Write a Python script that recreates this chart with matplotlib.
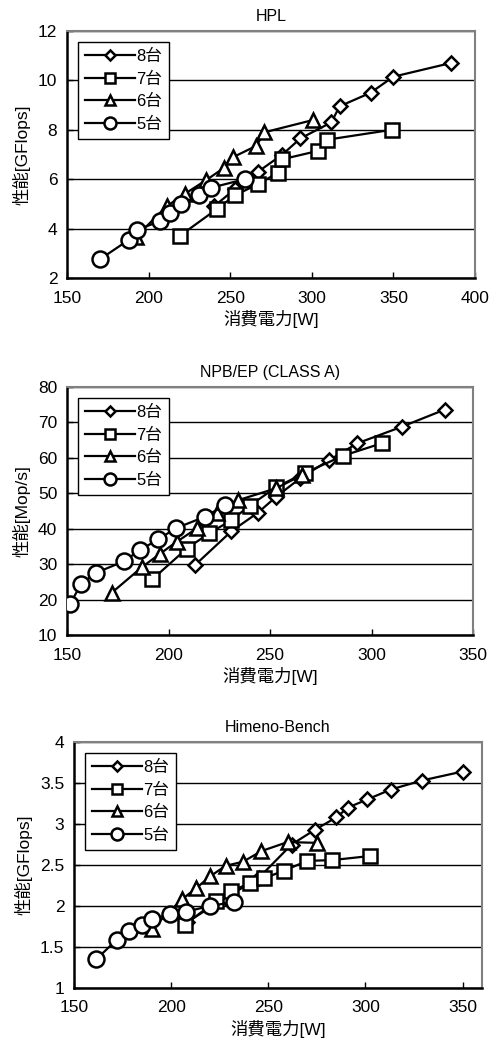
import matplotlib
matplotlib.use("Agg")
from matplotlib import pyplot as plt

plt.rcParams['font.family'] = ['Liberation Sans', 'Noto Sans CJK JP', 'DejaVu Sans']

labels = ['8台', '7台', '6台', '5台']
markers = ['D', 's', '^', 'o']
msizes = [7, 10.5, 10, 11.5]

# HPL
hpl_x = [
    [240, 253, 267, 282, 293, 312, 317, 336, 350, 385],
    [219, 242, 253, 267, 279, 281.5, 304, 309.5, 349],
    [192, 211, 222, 235, 246, 252, 266, 271, 301],
    [170, 188, 193, 207, 213, 220, 231, 238, 259],
]
hpl_y = [
    [4.9, 5.6, 6.3, 7.0, 7.65, 8.3, 8.95, 9.5, 10.15, 10.7],
    [3.7, 4.8, 5.35, 5.8, 6.25, 6.8, 7.15, 7.6, 8.0],
    [3.65, 4.9, 5.4, 5.95, 6.45, 6.9, 7.35, 7.9, 8.4],
    [2.75, 3.55, 3.95, 4.3, 4.65, 5.0, 5.35, 5.65, 6.0],
]

# NPB/EP
npb_x = [
    [213, 231, 244, 253, 265, 279, 293, 315, 336],
    [192, 209, 220, 231, 240, 253, 267, 286, 305],
    [172, 187, 196, 204, 214, 224, 234, 253, 266],
    [151.5, 157, 164.5, 178, 186, 195, 203.5, 218, 228],
]
npb_y = [
    [29.7, 39.3, 44.5, 49.0, 54.3, 59.3, 64.1, 68.8, 73.6],
    [25.7, 34.4, 38.7, 42.4, 46.5, 51.7, 55.7, 60.6, 64.1],
    [21.9, 29.2, 33.0, 36.3, 40.1, 44.3, 48.0, 51.4, 55.2],
    [18.7, 24.5, 27.6, 30.8, 34.0, 37.0, 40.1, 43.4, 46.7],
]

# Himeno-Bench
him_x = [
    [208, 228, 245, 262, 274, 285, 291, 301, 313, 329, 350],
    [207, 223, 231, 240.5, 248, 258, 270, 283, 302.5],
    [190, 205.5, 213, 220, 228, 237, 246.5, 260, 275],
    [161.5, 172, 178.5, 185, 190, 199.5, 207.5, 220, 232.5],
]
him_y = [
    [1.8, 2.1, 2.34, 2.75, 2.93, 3.08, 3.2, 3.3, 3.42, 3.53, 3.64],
    [1.77, 2.06, 2.18, 2.28, 2.34, 2.43, 2.55, 2.56, 2.61],
    [1.72, 2.08, 2.22, 2.36, 2.49, 2.54, 2.67, 2.78, 2.77],
    [1.35, 1.59, 1.69, 1.77, 1.84, 1.9, 1.93, 2.0, 2.05],
]

panels = [
    dict(title='HPL', xs=hpl_x, ys=hpl_y, xlim=(150, 400), xt=range(150, 401, 50),
         ylim=(2, 12), yt=range(2, 13, 2), ylabel='性能[GFlops]', ytl=None,
         rect=[67, 31, 475, 278]),
    dict(title='NPB/EP (CLASS A)', xs=npb_x, ys=npb_y, xlim=(150, 350), xt=range(150, 351, 50),
         ylim=(10, 80), yt=range(10, 81, 10), ylabel='性能[Mop/s]', ytl=None,
         rect=[67, 387, 473, 635]),
    dict(title='Himeno-Bench', xs=him_x, ys=him_y, xlim=(150, 360), xt=range(150, 351, 50),
         ylim=(1, 4), yt=[1, 1.5, 2, 2.5, 3, 3.5, 4], ylabel='性能[GFlops]',
         ytl=['1', '1.5', '2', '2.5', '3', '3.5', '4'],
         rect=[74, 742, 482, 988]),
]

W, H = 497, 1046
fig = plt.figure(figsize=(W / 100, H / 100), dpi=100)

for p in panels:
    l, t, r, b = p['rect']
    ax = fig.add_axes([l / W, 1 - b / H, (r - l) / W, (b - t) / H])
    for xs, ys, lab, mk, ms in zip(p['xs'], p['ys'], labels, markers, msizes):
        ax.plot(xs, ys, color='black', lw=1.6, marker=mk, ms=ms, mfc='white',
                mec='black', mew=1.8, label=lab, zorder=3)
    ax.set_xlim(*p['xlim'])
    ax.set_ylim(*p['ylim'])
    ax.set_xticks(list(p['xt']))
    ax.set_yticks(list(p['yt']))
    if p['ytl']:
        ax.set_yticklabels(p['ytl'])
    ax.yaxis.grid(True, color='black', lw=1.0, zorder=0)
    ax.set_axisbelow(True)
    ax.tick_params(direction='in', length=4, width=1, labelsize=12.5, pad=7)
    ax.tick_params(axis='x', pad=9)
    for s in ['left', 'bottom']:
        ax.spines[s].set_linewidth(1.8)
        ax.spines[s].set_color('black')
    for s in ['top', 'right']:
        ax.spines[s].set_linewidth(1.5)
        ax.spines[s].set_color('#808080')
    ax.set_title(p['title'], fontsize=11.5, pad=7)
    ax.set_xlabel('消費電力[W]', fontsize=12.5, labelpad=3)
    ax.set_ylabel(p['ylabel'], fontsize=12.5, labelpad=5)
    leg = ax.legend(loc='upper left', bbox_to_anchor=(0.027, 0.955), fontsize=12,
                    frameon=True, fancybox=False, edgecolor='black', framealpha=1,
                    handlelength=3.0, handletextpad=0.1, borderpad=0.4,
                    labelspacing=0.45, borderaxespad=0)
    leg.get_frame().set_linewidth(1.0)
    for h in leg.legend_handles:
        h.set_markersize(h.get_markersize() * 0.75)

fig.savefig('out.png', dpi=100)
